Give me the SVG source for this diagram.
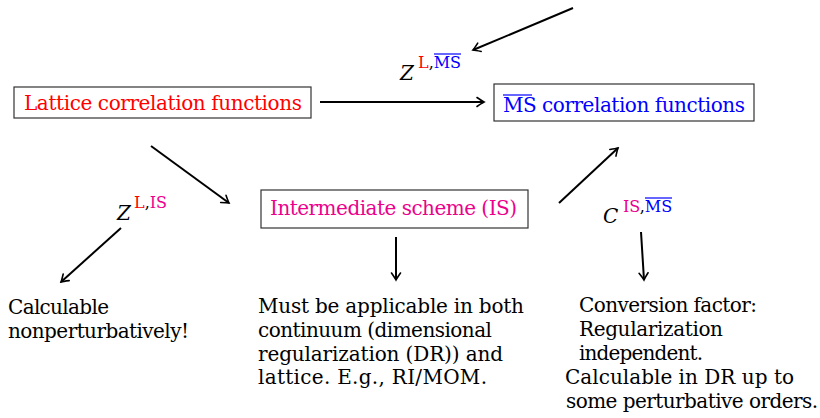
<svg xmlns="http://www.w3.org/2000/svg" width="820" height="418" viewBox="0 0 820 418">
<defs>
<style>
text{font-family:'DejaVu Serif','Liberation Serif',serif;font-size:20px;fill:#000}
.box{fill:#fff;stroke:#333;stroke-width:1.2}
.red{fill:#ff0000}
.blue{fill:#0000ff}
.mag{fill:#ec008c}
.sup{font-size:16px}
.it{font-style:italic}
.conn line{stroke:#000;stroke-width:2;marker-end:url(#arr)}
.ov{stroke:#0000ff;stroke-width:1.2}
</style>
<marker id="arr" viewBox="-10 -6 12 12" refX="0" refY="0" markerWidth="12" markerHeight="12" markerUnits="userSpaceOnUse" orient="auto">
<path d="M-7,-4.5 Q-2,-1 0,0 Q-2,1 -7,4.5" fill="none" stroke="#000" stroke-width="1.6" stroke-linecap="round"/>
</marker>
</defs>
<rect width="820" height="418" fill="#fff"/>

<g id="lattice">
<rect class="box" x="14" y="87" width="297" height="31"/>
<text class="red" x="24" y="110" textLength="278">Lattice correlation functions</text>
</g>

<g id="msbar">
<rect class="box" x="494" y="84" width="260" height="37"/>
<text class="blue" x="503" y="112" textLength="242">MS correlation functions</text>
<line class="ov" x1="503" y1="95" x2="532" y2="95"/>
</g>

<g id="is">
<rect class="box" x="261" y="190" width="267" height="38"/>
<text class="mag" x="270" y="215" textLength="247">Intermediate scheme (IS)</text>
</g>

<g id="label-zlms">
<text class="it" x="400" y="80">Z</text>
<text class="sup" x="418" y="68"><tspan class="red">L</tspan><tspan>,</tspan><tspan class="blue">MS</tspan></text>
<line class="ov" x1="434" y1="54" x2="461" y2="54"/>
</g>

<g id="label-zlis">
<text class="it" x="117" y="220">Z</text>
<text class="sup" x="134" y="208"><tspan class="red">L</tspan><tspan>,</tspan><tspan class="mag">IS</tspan></text>
</g>

<g id="label-cisms">
<text class="it" x="603" y="223">C</text>
<text class="sup" x="623" y="212"><tspan class="mag">IS</tspan><tspan>,</tspan><tspan class="blue">MS</tspan></text>
<line class="ov" x1="645" y1="198" x2="672" y2="198"/>
</g>

<g id="note-left">
<text x="8" y="314" textLength="101">Calculable</text>
<text x="8" y="338" textLength="181">nonperturbatively!</text>
</g>

<g id="note-mid">
<text x="258" y="313" textLength="266">Must be applicable in both</text>
<text x="258" y="337" textLength="234">continuum (dimensional</text>
<text x="258" y="361" textLength="245">regularization (DR)) and</text>
<text x="258" y="384" textLength="229">lattice. E.g., RI/MOM.</text>
</g>

<g id="note-right">
<text x="579" y="312" textLength="178">Conversion factor:</text>
<text x="579" y="336" textLength="144">Regularization</text>
<text x="579" y="360" textLength="124">independent.</text>
<text x="565" y="384" textLength="229">Calculable in DR up to</text>
<text x="566" y="408" textLength="252">some perturbative orders.</text>
</g>

<g id="connectors" class="conn">
<line x1="573" y1="8" x2="473" y2="50"/>
<line x1="320" y1="102" x2="484" y2="102"/>
<line x1="151" y1="146" x2="229" y2="203"/>
<line x1="121" y1="228" x2="61" y2="282"/>
<line x1="396" y1="237" x2="396" y2="280"/>
<line x1="559" y1="203" x2="618" y2="148"/>
<line x1="641" y1="232" x2="644" y2="280"/>
</g>
</svg>
